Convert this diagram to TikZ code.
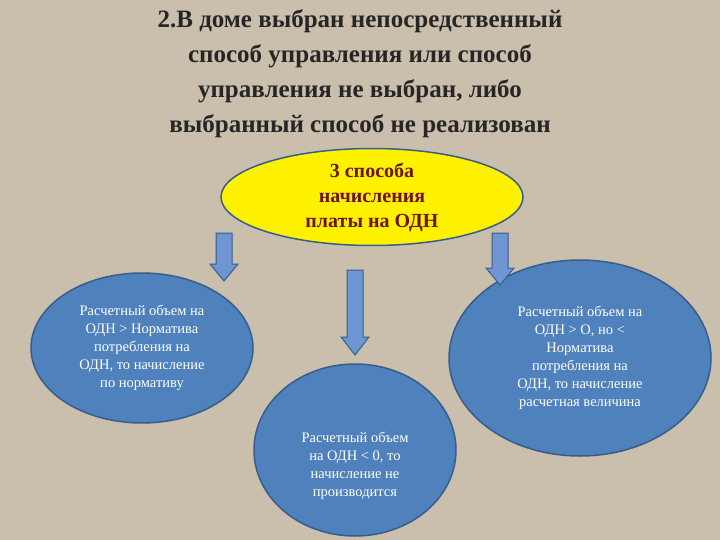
\documentclass[tikz,border=0pt]{standalone}
\usepackage{fontspec}
\setmainfont{Liberation Serif}
\usetikzlibrary{shapes.geometric}
\definecolor{bg}{RGB}{201,191,172}
\definecolor{blueell}{RGB}{79,129,189}
\definecolor{blueedge}{RGB}{56,93,138}
\definecolor{arrfill}{RGB}{110,150,210}
\definecolor{maroon}{RGB}{110,20,20}
\tikzset{
  blob/.style={ellipse,fill=blueell,draw=blueedge,line width=1.5pt,text=white,align=center,font=\fontsize{14.5}{18}\selectfont,inner sep=0pt},
  arr/.style={fill=arrfill,draw=blueedge,line width=1pt}
}
\begin{document}
\begin{tikzpicture}[x=1pt,y=-1pt]
\fill[bg] (0,0) rectangle (720,540);
\useasboundingbox (0,0) rectangle (720,540);
\node[align=center,font=\bfseries\fontsize{25}{35}\selectfont,text=black!85] (title) at (360,74)
 {2.В доме выбран непосредственный\\способ управления  или способ\\управления не выбран, либо\\выбранный способ не реализован};
\node[ellipse,fill=yellow,draw=blueedge,line width=1.5pt,minimum width=302pt,minimum height=96pt,align=center,
 font=\bfseries\fontsize{20}{25}\selectfont,text=maroon,inner sep=0pt] (top) at (372,197)
 {3 способа\\начисления\\платы на ОДН};
\node[blob,minimum width=222pt,minimum height=150pt] (l) at (142,348)
 {Расчетный объем на\\ОДН > Норматива\\потребления на\\ОДН, то начисление\\по нормативу};
\node[blob,minimum width=202pt,minimum height=172pt] (m) at (355,450)
 {\\[24pt]Расчетный объем\\на ОДН < 0, то\\начисление не\\производится};
\node[blob,minimum width=262pt,minimum height=196pt] (r) at (580,358)
 {Расчетный объем на\\ОДН > О, но <\\Норматива\\потребления на\\ОДН, то начисление\\расчетная величина};
\draw[arr] (216,233) -- (232,233) -- (232,264) -- (238,264) -- (224,281) -- (210,264) -- (216,264) -- cycle;
\draw[arr] (347,270) -- (363,270) -- (363,337) -- (369,337) -- (355,355) -- (341,337) -- (347,337) -- cycle;
\draw[arr] (492,233) -- (508,233) -- (508,268) -- (514,268) -- (500,285) -- (486,268) -- (492,268) -- cycle;
\end{tikzpicture}
\end{document}
